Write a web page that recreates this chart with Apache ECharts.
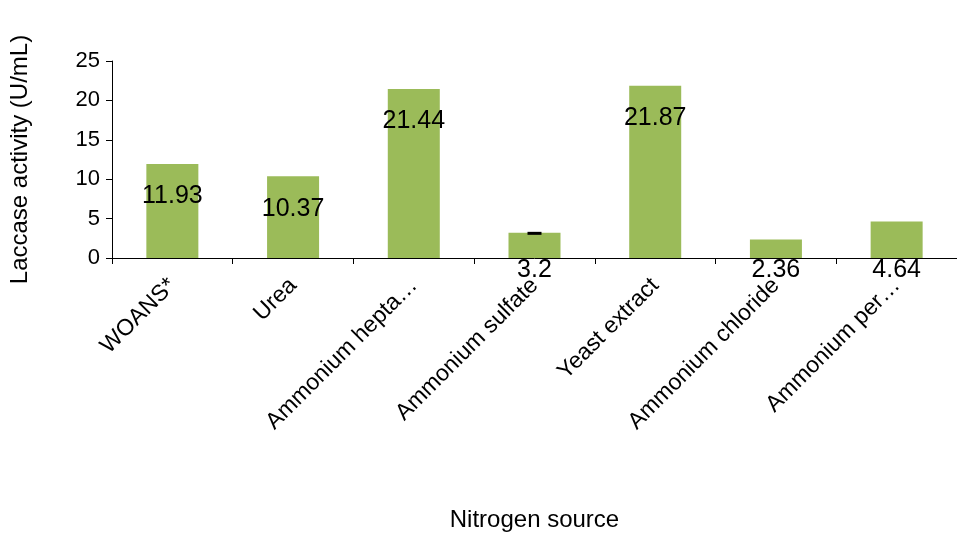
<!DOCTYPE html>
<html>
<head>
<meta charset="utf-8">
<script src="https://cdn.jsdelivr.net/npm/echarts@6/dist/echarts.min.js"></script>
<style>html,body{margin:0;background:#fff;overflow:hidden}#chart{width:957px;height:548px}</style>
</head>
<body>
<div id="chart"></div>
<script>
var categories = ['WOANS*', 'Urea', 'Ammonium hepta…', 'Ammonium sulfate', 'Yeast extract', 'Ammonium chloride', 'Ammonium per…'];
var values = [11.93, 10.37, 21.44, 3.2, 21.87, 2.36, 4.64];
var errors = [0, 0, 0, 0.12, 0, 0, 0];
var yTicks = [0, 5, 10, 15, 20, 25];

var font = 'Helvetica, "Liberation Sans", Arial, sans-serif';
var chart = echarts.init(document.getElementById('chart'));

var barData = values.map(function (v) {
    if (v < 5) return { value: v, label: { position: 'bottom', distance: 0 } };
    return v;
});

chart.setOption({
    animation: false,
    grid: { left: 103, width: 889, top: 61, height: 197, containLabel: false },
    xAxis: {
        type: 'category',
        data: categories,
        name: 'Nitrogen source',
        nameLocation: 'middle',
        nameGap: 250,
        nameTextStyle: { fontFamily: font, fontSize: 24, color: '#000' },
        axisLine: { lineStyle: { color: '#000', width: 1 } },
        axisTick: { show: true, length: 6, lineStyle: { color: '#000' } },
        axisLabel: { rotate: 45, fontFamily: font, fontSize: 23, color: '#000', margin: 24 }
    },
    yAxis: {
        type: 'value',
        min: yTicks[0],
        max: yTicks[yTicks.length - 1],
        interval: 5,
        name: 'Laccase activity (U/mL)',
        nameLocation: 'middle',
        nameGap: 80,
        nameTextStyle: { fontFamily: font, fontSize: 24, color: '#000' },
        axisLine: { show: true, lineStyle: { color: '#000' } },
        axisTick: { show: true, length: 6, lineStyle: { color: '#000' } },
        splitLine: { show: false },
        axisLabel: { fontFamily: font, fontSize: 22, color: '#000', margin: 12 }
    },
    series: [{
        type: 'bar',
        data: barData,
        barWidth: 52,
        itemStyle: { color: '#9bbb59' },
        label: {
            show: true,
            position: 'insideTop',
            distance: 20,
            fontFamily: font,
            fontSize: 25,
            color: '#000'
        }
    }, {
        type: 'custom',
        data: values.map(function (v, i) { return [i, v, errors[i]]; }),
        renderItem: function (params, api) {
            var e = api.value(2);
            if (!e) return null;
            var v = api.value(1), i = api.value(0);
            var top = api.coord([i, v + e]);
            var bot = api.coord([i, v - e]);
            return { type: 'rect', shape: { x: top[0] - 7, y: top[1], width: 14, height: Math.max(3, bot[1] - top[1]) }, style: { fill: '#000' } };
        },
        z: 5
    }]
});
</script>
</body>
</html>
